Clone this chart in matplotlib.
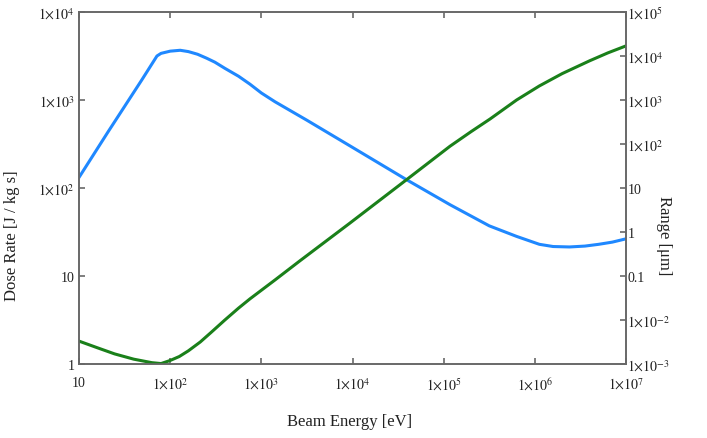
import numpy as np
import matplotlib
matplotlib.use("Agg")
import matplotlib.pyplot as plt
from matplotlib.ticker import FixedLocator, FuncFormatter, NullLocator

# values, as log10 of the quantity
dose_log_energy = [1.0, 1.32, 1.69, 1.855, 1.9, 2.0, 2.11, 2.2, 2.3, 2.4, 2.49, 2.6,
                   2.75, 2.875, 3.0, 3.15, 3.5, 3.97, 4.6, 5.07, 5.5, 5.8, 6.05,
                   6.2, 6.38, 6.55, 6.7, 6.85, 6.99]
dose_log_rate = [2.12, 2.64, 3.23, 3.50, 3.53, 3.555, 3.565, 3.55, 3.52, 3.475, 3.43, 3.36,
                 3.27, 3.18, 3.08, 2.98, 2.77, 2.48, 2.09, 1.81, 1.57, 1.45, 1.36,
                 1.335, 1.33, 1.34, 1.36, 1.385, 1.42]

range_log_energy = [1.0, 1.2, 1.39, 1.6, 1.8, 1.9, 2.0, 2.1, 2.2, 2.33, 2.45, 2.6, 2.75,
                    2.875, 3.15, 3.42, 3.97, 4.6, 5.07, 5.3, 5.51, 5.8, 6.05, 6.3,
                    6.6, 6.8, 7.0]
range_log_um = [-2.48, -2.63, -2.77, -2.89, -2.97, -2.99, -2.92, -2.83, -2.7, -2.5, -2.28,
                -2.0, -1.73, -1.52, -1.09, -0.66, 0.20, 1.20, 1.95, 2.28, 2.57, 3.0,
                3.32, 3.6, 3.89, 4.07, 4.23]

x_decades = list(range(1, 8))
dose_decades = list(range(0, 5))
range_decades = list(range(-3, 6))

plt.rcParams["font.family"] = ["Liberation Serif", "DejaVu Serif"]
plt.rcParams["mathtext.fontset"] = "stix"

TEXT = "#222222"
SPINE = "#686868"


def decade_label(v, pos=None):
    e = int(round(np.log10(v)))
    if e == 0:
        return "1"
    if e == 1:
        return "10"
    if e == -1:
        return "0.1"
    return r"$1{\times}10^{%d}$" % e


fig = plt.figure(figsize=(7.07, 4.39), dpi=100)
ax = fig.add_axes([79 / 707, 1 - 365 / 439, 547 / 707, 352 / 439])
ax2 = ax.twinx()

ax.plot(10 ** np.array(dose_log_energy), 10 ** np.array(dose_log_rate),
        color="#1f88ff", lw=2.2, solid_joinstyle="round")
ax2.plot(10 ** np.array(range_log_energy), 10 ** np.array(range_log_um),
         color="#1a801a", lw=2.2, solid_joinstyle="round")

ax.set_xscale("log")
ax.set_yscale("log")
ax2.set_yscale("log")
ax.set_xlim(10, 1e7)
ax.set_ylim(1, 1e4)
ax2.set_ylim(1e-3, 1e5)

ax.xaxis.set_major_locator(FixedLocator([10.0 ** e for e in x_decades]))
ax.yaxis.set_major_locator(FixedLocator([10.0 ** e for e in dose_decades]))
ax2.yaxis.set_major_locator(FixedLocator([10.0 ** e for e in range_decades]))
for a in (ax.xaxis, ax.yaxis, ax2.yaxis):
    a.set_minor_locator(NullLocator())
    a.set_major_formatter(FuncFormatter(decade_label))

ax.tick_params(axis="x", direction="in", length=4, width=1.2, color=SPINE,
               top=True, labelsize=10, labelcolor=TEXT, pad=9)
ax.tick_params(axis="y", direction="in", length=4, width=1.2, color=SPINE,
               labelsize=10, labelcolor=TEXT, pad=3)
ax2.tick_params(axis="y", direction="in", length=4, width=1.2, color=SPINE,
                labelsize=10, labelcolor=TEXT, pad=1)

for a in (ax, ax2):
    for s in a.spines.values():
        s.set_color(SPINE)
        s.set_linewidth(1.2)

ax.set_xlabel("Beam Energy [eV]", fontsize=12, color=TEXT)
ax.set_ylabel("Dose Rate [J / kg s]", fontsize=12, color=TEXT)
ax2.set_ylabel("Range [μm]", fontsize=12, color=TEXT, rotation=270)
ax.xaxis.set_label_coords(0.495, -0.14)
ax.yaxis.set_label_coords(-0.108, 0.366)
ax2.yaxis.set_label_coords(1.085, 0.366)

fig.savefig("out.png", dpi=100)
